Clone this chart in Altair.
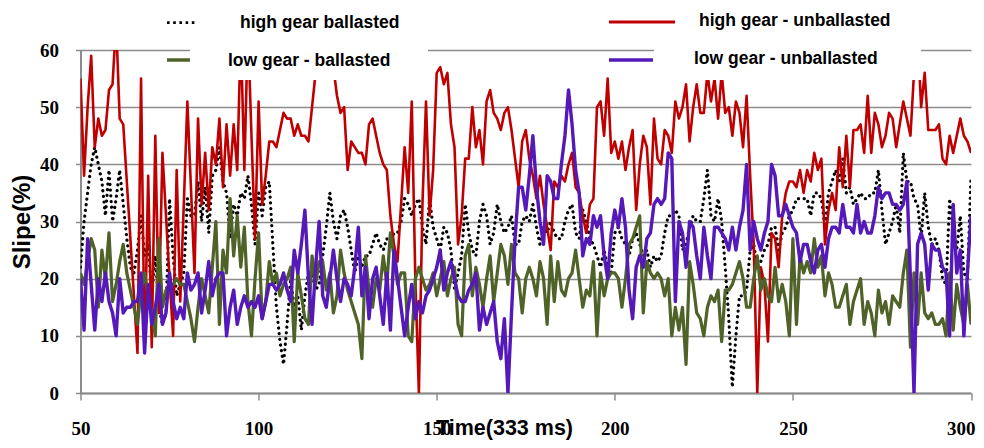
import altair as alt
import pandas as pd

# ---------------- data ----------------
x_values = list(range(50, 301))

high_gear_ballasted = [
    22, 30, 35, 40, 43, 40, 37, 31, 39, 30,
    34, 39, 33, 27, 22, 21, 25, 31, 24, 26,
    17, 24, 15, 12, 14, 34, 24, 17, 19, 21,
    34, 31, 31, 37, 30, 36, 28, 38, 39, 43,
    37, 35, 27, 33, 31, 35, 34, 38, 33, 26,
    35, 31, 36, 37, 26, 15, 9, 5, 12, 20,
    15, 17, 11, 17, 21, 21, 18, 19, 24, 29,
    35, 30, 27, 31, 32, 29, 25, 21, 24, 22,
    24, 24, 26, 28, 26, 25, 27, 26, 28, 28,
    30, 34, 33, 31, 33, 34, 29, 26, 34, 29,
    27, 25, 29, 28, 25, 18, 21, 24, 33, 28,
    25, 24, 30, 33, 31, 26, 28, 33, 30, 28,
    29, 31, 26, 26, 30, 31, 30, 33, 29, 26,
    29, 28, 30, 28, 27, 27, 30, 32, 33, 28,
    27, 32, 30, 27, 26, 24, 22, 25, 22, 21,
    28, 29, 27, 26, 24, 27, 28, 26, 24, 25,
    22, 24, 23, 24, 28, 31, 31, 32, 31, 25,
    26, 29, 31, 30, 30, 34, 39, 31, 30, 34,
    30, 22, 13, 1, 10, 17, 17, 18, 25, 26,
    22, 23, 25, 26, 29, 29, 25, 28, 29, 31,
    32, 34, 34, 34, 34, 31, 35, 35, 34, 29,
    35, 37, 39, 37, 41, 35, 36, 33, 34, 35,
    34, 34, 35, 35, 39, 32, 26, 28, 30, 33,
    28, 42, 37, 37, 34, 33, 27, 35, 29, 26,
    27, 25, 20, 19, 34, 28, 25, 31, 21, 20,
    38,
]

high_gear_unballasted = [
    55, 38, 50, 59, 43, 48, 45, 46, 53, 54,
    65, 48, 47, 37, 27, 17, 7, 55, 7, 38,
    8, 45, 14, 42, 31, 20, 10, 39, 16, 33,
    51, 36, 21, 48, 33, 42, 32, 43, 40, 48,
    36, 47, 38, 47, 39, 63, 39, 64, 45, 27,
    51, 33, 38, 44, 44, 43, 46, 49, 48, 48,
    45, 47, 45, 45, 44, 50, 56, 62, 64, 63,
    62, 57, 52, 49, 50, 39, 44, 43, 42, 42,
    40, 47, 48, 45, 42, 40, 39, 31, 26, 23,
    33, 43, 35, 51, 20, 0, 33, 51, 31, 39,
    56, 57, 54, 56, 47, 43, 26, 31, 41, 41,
    50, 43, 46, 40, 51, 53, 49, 48, 46, 49,
    50, 46, 41, 36, 44, 46, 41, 38, 34, 38,
    33, 29, 25, 37, 36, 38, 37, 40, 42, 36,
    35, 31, 28, 33, 34, 50, 51, 45, 55, 42,
    44, 41, 44, 39, 43, 46, 32, 40, 45, 43,
    33, 48, 41, 40, 46, 45, 42, 51, 48, 50,
    54, 44, 50, 54, 49, 49, 56, 51, 55, 48,
    56, 49, 50, 45, 51, 49, 43, 52, 38, 26,
    0, 22, 19, 9, 28, 27, 22, 31, 35, 37,
    37, 36, 39, 35, 39, 37, 42, 39, 41, 26,
    32, 35, 32, 43, 36, 45, 36, 46, 46, 47,
    42, 52, 42, 49, 47, 43, 45, 49, 48, 43,
    47, 51, 48, 45, 56, 63, 50, 56, 46, 46,
    46, 47, 41, 40, 45, 42, 45, 48, 45, 44,
    42,
]

low_gear_ballasted = [
    21, 19, 23, 27, 25, 15, 25, 20, 28, 16,
    19, 23, 26, 21, 18, 15, 12, 18, 21, 17,
    14, 10, 27, 15, 18, 19, 19, 20, 19, 19,
    16, 13, 9, 15, 20, 17, 14, 22, 30, 12,
    25, 21, 34, 24, 31, 22, 29, 16, 10, 20,
    28, 13, 16, 23, 19, 21, 17, 19, 20, 22,
    9, 21, 17, 13, 12, 24, 19, 23, 23, 18,
    21, 14, 17, 25, 21, 18, 16, 14, 12, 6,
    24, 18, 15, 20, 18, 24, 19, 28, 24, 19,
    21, 21, 10, 9, 20, 22, 20, 18, 19, 21,
    17, 20, 23, 17, 20, 22, 12, 10, 24, 26,
    17, 22, 19, 15, 20, 24, 16, 21, 26, 24,
    19, 26, 21, 20, 14, 20, 22, 20, 17, 23,
    20, 12, 24, 16, 23, 18, 17, 20, 21, 25,
    20, 15, 18, 17, 23, 10, 21, 17, 20, 21,
    21, 20, 15, 20, 26, 27, 29, 31, 14, 23,
    21, 20, 21, 20, 17, 20, 10, 15, 11, 15,
    5, 23, 19, 14, 13, 10, 15, 17, 16, 18,
    9, 18, 18, 19, 21, 23, 20, 15, 15, 20,
    24, 18, 20, 17, 16, 22, 16, 19, 16, 10,
    27, 12, 24, 21, 23, 21, 27, 22, 24, 17,
    21, 19, 15, 15, 17, 19, 12, 16, 18, 20,
    12, 16, 14, 10, 18, 14, 16, 12, 17, 16,
    15, 21, 25, 8, 21, 12, 21, 14, 13, 14,
    12, 12, 13, 10, 21, 11, 19, 15, 12, 19,
    12,
]

low_gear_unballasted = [
    20, 11, 27, 19, 11, 20, 16, 21, 16, 14,
    10, 20, 14, 15, 15, 16, 16, 21, 7, 19,
    12, 15, 19, 12, 14, 21, 16, 13, 15, 13,
    21, 18, 19, 21, 14, 18, 23, 17, 20, 21,
    21, 10, 15, 18, 12, 15, 17, 15, 16, 15,
    17, 13, 16, 19, 19, 18, 19, 21, 18, 16,
    25, 21, 26, 32, 20, 12, 22, 30, 17, 15,
    20, 25, 20, 16, 20, 19, 17, 22, 29, 17,
    22, 13, 20, 22, 17, 12, 21, 11, 25, 20,
    15, 10, 15, 19, 13, 16, 14, 17, 18, 20,
    22, 25, 18, 21, 23, 20, 17, 16, 16, 18,
    19, 21, 11, 15, 12, 14, 16, 9, 6, 13,
    0, 14, 27, 36, 36, 32, 38, 45, 36, 30,
    26, 38, 37, 34, 34, 40, 45, 53, 47, 39,
    35, 24, 27, 26, 31, 29, 31, 24, 20, 28,
    32, 29, 34, 29, 18, 13, 22, 24, 22, 27,
    28, 33, 34, 33, 34, 42, 41, 16, 30, 28,
    22, 30, 29, 24, 20, 29, 24, 20, 29, 29,
    28, 27, 25, 29, 25, 29, 32, 40, 25, 30,
    27, 25, 28, 30, 40, 38, 31, 31, 33, 31,
    29, 28, 23, 26, 26, 23, 21, 25, 26, 22,
    27, 29, 29, 28, 33, 29, 29, 28, 33, 28,
    30, 28, 28, 31, 36, 34, 35, 35, 33, 33,
    32, 33, 37, 20, 0, 26, 28, 26, 18, 26,
    25, 25, 22, 21, 10, 33, 21, 25, 10, 21,
    31,
]

series_names = [
    "high gear ballasted",
    "high gear - unballasted",
    "low gear - ballasted",
    "low gear - unballasted",
]
series_values = [high_gear_ballasted, high_gear_unballasted,
                 low_gear_ballasted, low_gear_unballasted]
x_ticks = [50, 100, 150, 200, 250, 300]
y_ticks = [0, 10, 20, 30, 40, 50, 60]

rows = []
for name, vals in zip(series_names, series_values):
    for xv, yv in zip(x_values, vals):
        rows.append({"x": xv, "y": yv, "series": name})
df = pd.DataFrame(rows)

# ---------------- styling ----------------
GRAY = "#8c8c8c"
SERIF = "Liberation Serif"
SANS = "Liberation Sans, sans-serif"

x_enc = alt.X(
    "x:Q",
    scale=alt.Scale(domain=[50, 300], nice=False, zero=False),
    axis=alt.Axis(
        values=x_ticks, grid=False, title="Time(333 ms)",
        domainColor=GRAY, domainWidth=2, tickColor=GRAY, tickWidth=1.5, tickSize=7,
        labelFont=SERIF, labelFontWeight="bold", labelFontSize=19, labelColor="black",
        labelBaseline="middle", labelPadding=28, labelFlush=False,
        labelAlign={"condition": {"test": "datum.value === 300", "value": "right"},
                    "value": "center"},
        labelOffset={"condition": {"test": "datum.value === 300", "value": 4},
                     "value": 0},
        titleFont=SANS, titleFontWeight="bold", titleFontSize=21.5, titleColor="black",
        titleX=423.5, titleY=41, titleBaseline="alphabetic", titleAlign="center",
    ),
)
y_enc = alt.Y(
    "y:Q",
    scale=alt.Scale(domain=[0, 60], nice=False),
    axis=alt.Axis(
        values=y_ticks, grid=True, gridColor=GRAY, gridWidth=1.6,
        domainColor=GRAY, domainWidth=2, tickColor=GRAY, tickWidth=1.5, tickSize=5,
        labelFont=SERIF, labelFontWeight="bold", labelFontSize=19, labelColor="black",
        labelPadding=17, labelFlush=False,
        title="Slipe(%)", titleFont=SANS, titleFontWeight="bold", titleFontSize=24,
        titleColor="black", titleX=-58.5, titleY=171.5, titleAngle=270,
        titleBaseline="middle", titleAlign="center",
    ),
)

base = alt.Chart(df)


def series_line(name, **style):
    return base.transform_filter(alt.datum.series == name).mark_line(
        clip=True, strokeJoin="round", **style
    ).encode(x=x_enc, y=y_enc)


black_line = series_line(series_names[0], color="black", strokeWidth=3.2,
                         strokeDash=[0.1, 5.6], strokeCap="round")
red_line = series_line(series_names[1], color="#C00000", strokeWidth=2.6)
green_line = series_line(series_names[2], color="#4F6228", strokeWidth=3.2)
purple_line = series_line(series_names[3], color="#5419B8", strokeWidth=3.4)

# ---------------- legend (decoration) ----------------
one = pd.DataFrame({"k": [0]})
legend_font = dict(font=SANS, fontSize=17.5, fontWeight="bold", color="black",
                   align="left", baseline="middle")

box1 = alt.Chart(one).mark_rect(color="white").encode(
    x=alt.value(109.5), x2=alt.value(347.5), y=alt.value(-12), y2=alt.value(30))
box2 = alt.Chart(one).mark_rect(color="white").encode(
    x=alt.value(573.5), x2=alt.value(840.5), y=alt.value(-12), y2=alt.value(30))

sym_black = alt.Chart(one).mark_rule(color="black", strokeWidth=2.8,
                                     strokeDash=[2.6, 3.6]).encode(
    x=alt.value(86.5), x2=alt.value(115.5), y=alt.value(-27.3))
sym_red = alt.Chart(one).mark_rule(color="#C00000", strokeWidth=3).encode(
    x=alt.value(528.5), x2=alt.value(594.5), y=alt.value(-28))
sym_green = alt.Chart(one).mark_rule(color="#4F6228", strokeWidth=3.5).encode(
    x=alt.value(86.5), x2=alt.value(109.5), y=alt.value(10))
sym_purple = alt.Chart(one).mark_rule(color="#5419B8", strokeWidth=3.5).encode(
    x=alt.value(528.5), x2=alt.value(572.5), y=alt.value(10))

txt1 = alt.Chart(one).mark_text(text=series_names[0], **legend_font).encode(
    x=alt.value(159.5), y=alt.value(-27.5))
txt2 = alt.Chart(one).mark_text(text=series_names[1], **legend_font).encode(
    x=alt.value(618.5), y=alt.value(-29))
txt3 = alt.Chart(one).mark_text(text=series_names[2], **legend_font).encode(
    x=alt.value(147.5), y=alt.value(11))
txt4 = alt.Chart(one).mark_text(text=series_names[3], **legend_font).encode(
    x=alt.value(613.5), y=alt.value(9))

chart = alt.layer(
    black_line, red_line, green_line, purple_line,
    box1, box2, sym_black, sym_red, sym_green, sym_purple,
    txt1, txt2, txt3, txt4,
).properties(
    width=890.5, height=343,
    autosize=alt.AutoSizeParams(type="none"),
    padding={"left": 72.5, "top": 42, "right": 5, "bottom": 47},
    background="white",
).configure_view(strokeWidth=0)

chart.save("out.html", embed_options={"renderer": "svg", "actions": False})
